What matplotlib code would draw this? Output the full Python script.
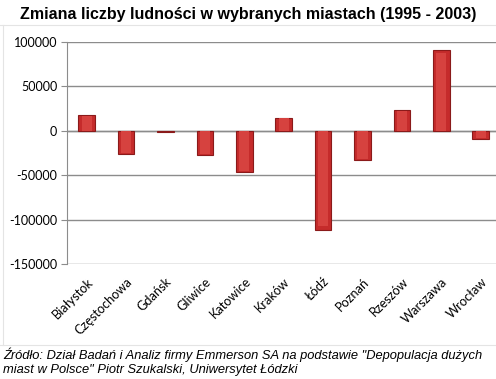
import matplotlib.pyplot as plt
from matplotlib.lines import Line2D

cities = ['Białystok', 'Częstochowa', 'Gdańsk', 'Gliwice', 'Katowice', 'Kraków',
          'Łódź', 'Poznań', 'Rzeszów', 'Warszawa', 'Wrocław']
change = [17600, -26600, -1500, -27700, -46800, 14600,
          -112000, -33400, 23600, 90700, -9000]
yticks = [100000, 50000, 0, -50000, -100000, -150000]

W, H = 496, 379
fig = plt.figure(figsize=(W / 100, H / 100), dpi=100)
fig.patch.set_facecolor('white')

# faint spreadsheet cell lines behind the chart
fig.add_artist(Line2D([0, 1], [1 - 25 / H, 1 - 25 / H], color='#e4e4e4', lw=0.8))
fig.add_artist(Line2D([3 / W, 3 / W], [1 - 345 / H, 1 - 25 / H], color='#e4e4e4', lw=0.8))
fig.add_artist(Line2D([0, 1], [1 - 345 / H, 1 - 345 / H], color='#e4e4e4', lw=0.8))

ax_left = 67 / W
ax_w = 11 * 39.4 / W
ax_bot = (H - 264.3) / H
ax_h = (264.3 - 41.7) / H
ax = fig.add_axes([ax_left, ax_bot, ax_w, ax_h])
ax.set_facecolor('none')

x = range(len(cities))
ax.bar(x, change, width=0.42, color='#c52b2b', edgecolor='#8a1a1a', linewidth=0.8, zorder=3)
# lighter inner face to mimic the bevel
ax.bar(x, [v * 0.96 if abs(v) > 3000 else 0 for v in change], width=0.26,
       color='#d6423f', linewidth=0, zorder=4)

ax.set_xlim(-0.5, len(cities) - 0.5)
ax.set_ylim(-150000, 100000)
ax.set_yticks(yticks)
ax.set_yticklabels([str(v) for v in yticks], fontsize=9, family='Lato')
ax.yaxis.grid(True, color='#8c8c8c', lw=1)
ax.set_axisbelow(True)
for s in ['top', 'right', 'bottom']:
    ax.spines[s].set_visible(False)
ax.spines['left'].set_color('#8c8c8c')
ax.tick_params(axis='y', length=4, color='#8c8c8c', pad=3)
ax.axhline(0, color='#8c8c8c', lw=1, zorder=2)

ax.set_xticks(list(x))
ax.set_xticklabels(cities, rotation=45, ha='right', va='top', rotation_mode='anchor',
                   fontsize=9.2, family='Lato')
ax.tick_params(axis='x', length=0, pad=8)

fig.text(0.5, 1 - 15 / H, 'Zmiana liczby ludności w wybranych miastach (1995 - 2003)',
         ha='center', va='center', fontsize=11.5, fontweight='bold', family='Liberation Sans')

fig.text(3 / W, 1 - 355 / H,
         'Źródło: Dział Badań i Analiz firmy Emmerson SA na podstawie "Depopulacja dużych',
         ha='left', va='center', fontsize=9.3, style='italic', family='Liberation Sans')
fig.text(3 / W, 1 - 370 / H,
         'miast w Polsce" Piotr Szukalski, Uniwersytet Łódzki',
         ha='left', va='center', fontsize=9.3, style='italic', family='Liberation Sans')

fig.savefig('out.png', dpi=100)
